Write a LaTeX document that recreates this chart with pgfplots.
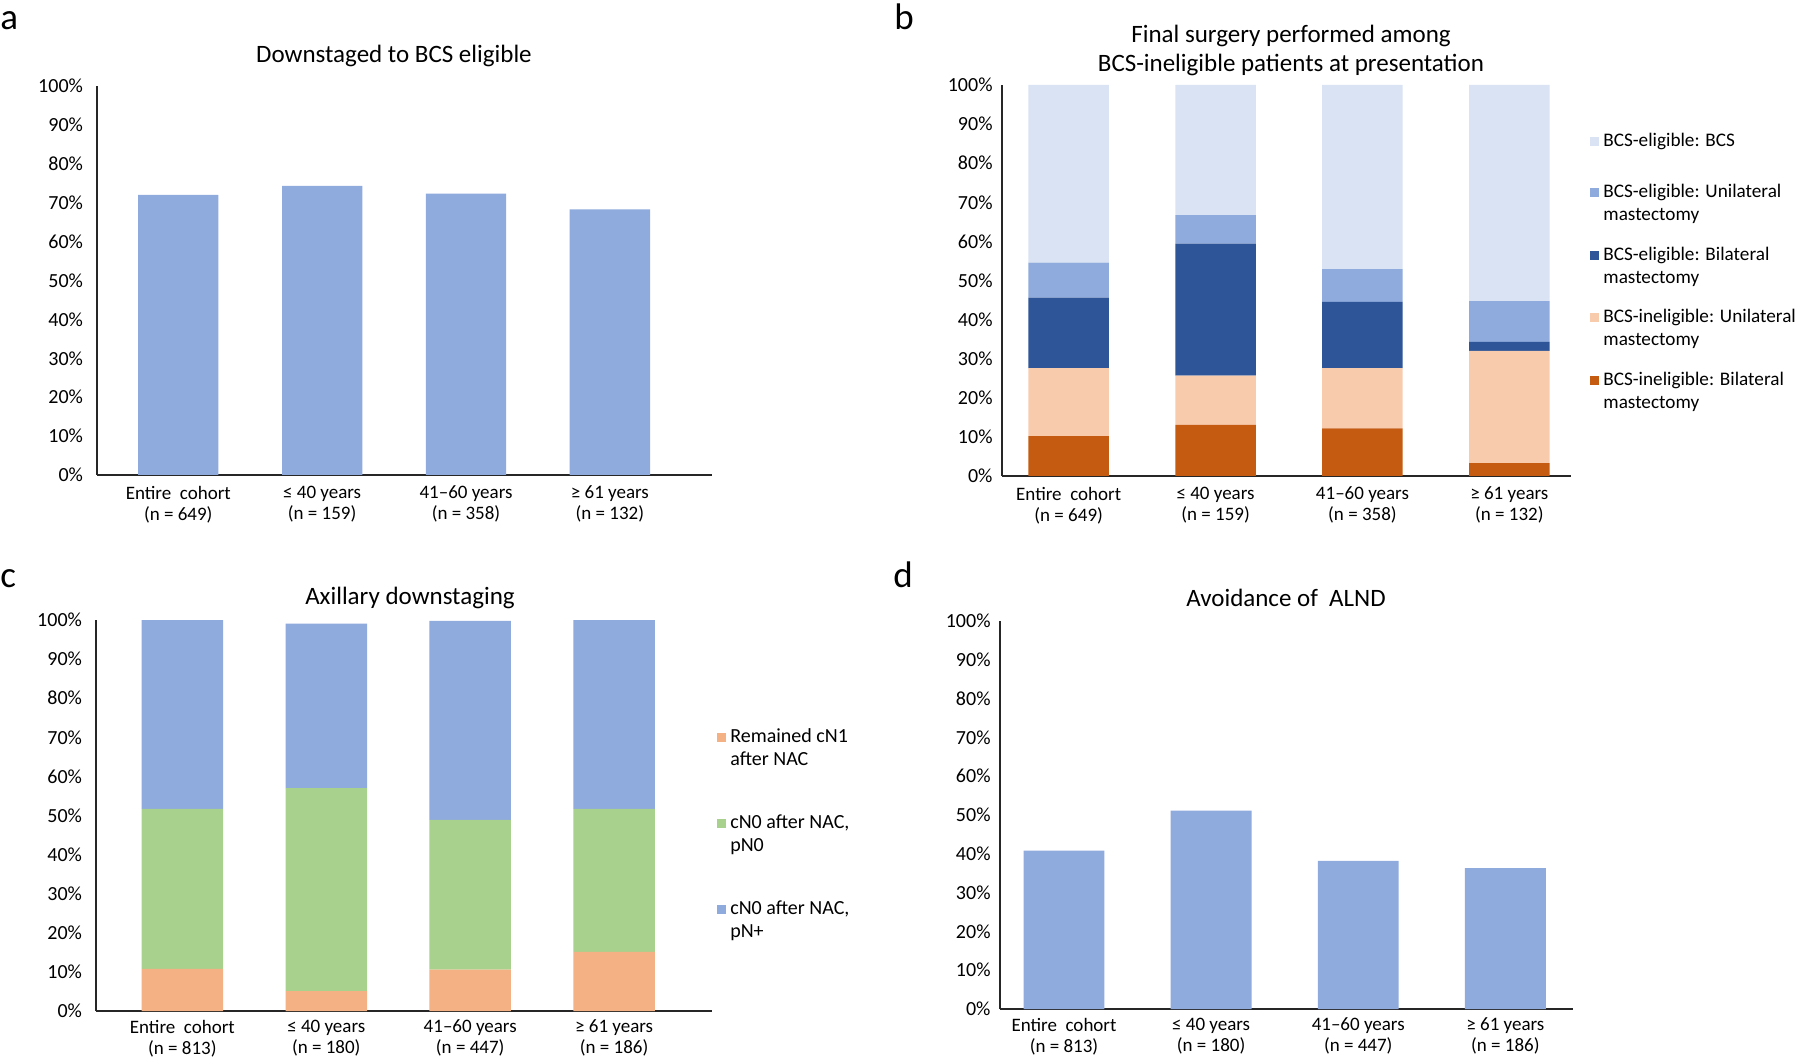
\documentclass[border=0pt]{standalone}
\usepackage{pgfplots}
\pgfplotsset{compat=1.18}
\usepackage{fontspec}
\setmainfont{Carlito}
\definecolor{barblue}{HTML}{8FAADC}
\definecolor{bcs}{HTML}{DAE3F3}
\definecolor{eluni}{HTML}{8FAADC}
\definecolor{elbil}{HTML}{2D5597}
\definecolor{inuni}{HTML}{F8CBAD}
\definecolor{inbil}{HTML}{C55A11}
\definecolor{corange}{HTML}{F4B183}
\definecolor{cgreen}{HTML}{A9D18E}
\pgfplotsset{
  panel/.style={
    scale only axis, anchor=south west,
    ymin=0, ymax=100,
    axis lines=left,
    axis line style={-, line width=0.9pt, black!85},
    major tick length=0pt,
    ytick={0,10,...,100},
    yticklabels={0\%,10\%,20\%,30\%,40\%,50\%,60\%,70\%,80\%,90\%,100\%},
    yticklabel style={font=\fontsize{10}{12}\selectfont},
    xtick={0,1,2,3},
    xticklabel style={align=center, font=\fontsize{9.5}{10.5}\selectfont, yshift=-2pt},
  },
  sqA/.style={legend image code/.code={\fill[##1] (0pt,-2.25pt) rectangle (4.5pt,2.25pt);}},
  sqB/.style={legend image code/.code={\fill[##1] (0pt,3.5pt) rectangle (4.5pt,8pt);}},
}
\begin{document}
\begin{tikzpicture}
\useasboundingbox (0,0) rectangle (900pt,530.5pt);
% panel a
\begin{axis}[panel, at={(48.5pt,293pt)}, width=307.5pt, height=194.5pt,
  xmin=-0.565, xmax=3.71, ybar, bar width=0.558,
  yticklabel style={xshift=-3.5pt},
  xticklabels={{Entire\ \ cohort\\(n = 649)},{≤ 40 years\\(n = 159)},{41–60 years\\(n = 358)},{≥ 61 years\\(n = 132)}}]
\addplot[fill=barblue, draw=none] coordinates {(0,72.0) (1,74.3) (2,72.3) (3,68.3)};
\end{axis}
% panel b
\begin{axis}[panel, at={(501pt,292.5pt)}, width=284.5pt, height=195.5pt,
  xmin=-0.454, xmax=3.42, ybar stacked, bar width=0.548,
  yticklabel style={xshift=-1.2pt},
  xticklabels={{Entire\ \ cohort\\(n = 649)},{≤ 40 years\\(n = 159)},{41–60 years\\(n = 358)},{≥ 61 years\\(n = 132)}},
  legend cell align=left, reverse legend,
  legend style={draw=none, fill=none, at={(1.0334,0.937)}, anchor=north west,
    inner sep=0pt, row sep=0pt, column sep=0pt, font=\fontsize{9.6}{11.5}\selectfont,
    nodes={minimum height=31.3pt, inner xsep=2pt, inner ysep=0pt, align=left}}]
\addplot[fill=inbil, draw=none, sqB] coordinates {(0,10.2) (1,13.1) (2,12.2) (3,3.3)};
\addlegendentry{BCS-ineligible: Bilateral\\mastectomy}
\addplot[fill=inuni, draw=none, sqB] coordinates {(0,17.4) (1,12.6) (2,15.4) (3,28.7)};
\addlegendentry{BCS-ineligible: Unilateral\\mastectomy}
\addplot[fill=elbil, draw=none, sqB] coordinates {(0,18.0) (1,33.7) (2,16.9) (3,2.3)};
\addlegendentry{BCS-eligible: Bilateral\\mastectomy}
\addplot[fill=eluni, draw=none, sqB] coordinates {(0,9.0) (1,7.3) (2,8.4) (3,10.4)};
\addlegendentry{BCS-eligible: Unilateral\\mastectomy}
\addplot[fill=bcs, draw=none, sqA] coordinates {(0,45.4) (1,33.3) (2,47.1) (3,55.3)};
\addlegendentry{BCS-eligible: BCS}
\end{axis}
% panel c
\begin{axis}[panel, at={(48pt,25pt)}, width=308pt, height=195.5pt,
  xmin=-0.6, xmax=3.68, ybar stacked, bar width=0.566,
  yticklabel style={xshift=-3.5pt},
  xticklabel style={yshift=1pt},
  xticklabels={{Entire\ \ cohort\\(n = 813)},{≤ 40 years\\(n = 180)},{41–60 years\\(n = 447)},{≥ 61 years\\(n = 186)}},
  legend cell align=left,
  legend style={draw=none, fill=none, at={(1.008,0.7813)}, anchor=north west,
    inner sep=0pt, row sep=0pt, column sep=0pt, font=\fontsize{10}{11.5}\selectfont,
    nodes={minimum height=43pt, inner xsep=2pt, inner ysep=0pt, align=left}}]
\addplot[fill=corange, draw=none, sqB] coordinates {(0,10.8) (1,5.1) (2,10.6) (3,15.1)};
\addlegendentry{Remained cN1\\after NAC}
\addplot[fill=cgreen, draw=none, sqB] coordinates {(0,40.9) (1,51.9) (2,38.3) (3,36.6)};
\addlegendentry{cN0 after NAC,\\pN0}
\addplot[fill=barblue, draw=none, sqB] coordinates {(0,48.3) (1,42.1) (2,50.9) (3,48.3)};
\addlegendentry{cN0 after NAC,\\pN+}
\end{axis}
% panel d
\begin{axis}[panel, at={(500pt,26pt)}, width=286.5pt, height=194pt,
  xmin=-0.435, xmax=3.46, ybar, bar width=0.55,
  yticklabel style={xshift=-1.2pt},
  xticklabel style={yshift=1pt},
  xticklabels={{Entire\ \ cohort\\(n = 813)},{≤ 40 years\\(n = 180)},{41–60 years\\(n = 447)},{≥ 61 years\\(n = 186)}}]
\addplot[fill=barblue, draw=none] coordinates {(0,40.8) (1,51.1) (2,38.2) (3,36.3)};
\end{axis}
% titles
\node[font=\fontsize{12.5}{14.5}\selectfont] at (197pt,502.5pt) {Downstaged to BCS eligible};
\node[font=\fontsize{12.5}{14.5}\selectfont, align=center] at (645.5pt,505.25pt) {Final surgery performed among\\BCS-ineligible patients at presentation};
\node[font=\fontsize{12.5}{14.5}\selectfont] at (205pt,231.5pt) {Axillary downstaging};
\node[font=\fontsize{12.5}{14.5}\selectfont] at (643pt,231.5pt) {Avoidance of\ \ ALND};
% panel letters
\node[font=\fontsize{18.5}{20}\selectfont, anchor=base west, inner sep=0pt] at (0pt,515.5pt) {a};
\node[font=\fontsize{18.5}{20}\selectfont, anchor=base west, inner sep=0pt] at (447pt,515.5pt) {b};
\node[font=\fontsize{18.5}{20}\selectfont, anchor=base west, inner sep=0pt] at (0pt,236.5pt) {c};
\node[font=\fontsize{18.5}{20}\selectfont, anchor=base west, inner sep=0pt] at (446.5pt,236.5pt) {d};
\end{tikzpicture}
\end{document}
